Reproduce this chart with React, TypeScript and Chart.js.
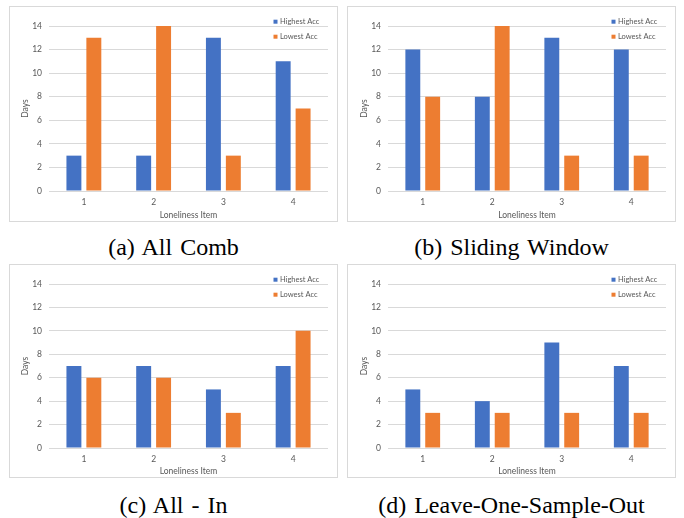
import React, { useEffect, useRef } from 'react';
import { Chart, registerables } from 'chart.js';

Chart.register(...registerables);

// ---- data ----
const categories = ['1', '2', '3', '4'];
const seriesNames = ['Highest Acc', 'Lowest Acc'];
const allCombHighest = [3, 3, 13, 11];
const allCombLowest = [13, 14, 3, 7];
const slidingHighest = [12, 8, 13, 12];
const slidingLowest = [8, 14, 3, 3];
const allInHighest = [7, 7, 5, 7];
const allInLowest = [6, 6, 3, 10];
const losoHighest = [5, 4, 9, 7];
const losoLowest = [3, 3, 3, 3];
const yMax = 14;
const yStep = 2;
const xTitle = 'Loneliness Item';
const yTitle = 'Days';
const captions = ['(a) All Comb', '(b) Sliding Window', '(c) All - In', '(d) Leave-One-Sample-Out'];

// ---- styles ----
const BLUE = '#4472C4';
const ORANGE = '#ED7D31';
const TEXT = '#595959';
const GRID = '#d9d9d9';
const FONT = 'Lato, Carlito, Calibri, sans-serif';

const insideLegend = {
  id: 'insideLegend',
  afterDraw(chart: any) {
    const { ctx, chartArea } = chart;
    ctx.save();
    ctx.font = `7.5px ${FONT}`;
    ctx.textBaseline = 'middle';
    ctx.textAlign = 'left';
    chart.data.datasets.forEach((ds: any, i: number) => {
      const y = chartArea.top - 4.3 + i * 15;
      const x = chartArea.right - 54.5;
      ctx.fillStyle = ds.backgroundColor;
      ctx.fillRect(x, y - 2, 4, 4);
      ctx.fillStyle = TEXT;
      ctx.fillText(ds.label, x + 6.5, y);
    });
    ctx.restore();
  },
};

type PanelProps = {
  left: number;
  top: number;
  width: number;
  height: number;
  plotLeft: number;
  plotTop: number;
  axisBottom: number;
  high: number[];
  low: number[];
};

function Panel(p: PanelProps) {
  const ref = useRef<HTMLCanvasElement | null>(null);
  useEffect(() => {
    if (!ref.current) return;
    const tickFont = { family: FONT, size: 8.5 };
    const chart = new Chart(ref.current, {
      type: 'bar',
      data: {
        labels: categories,
        datasets: [
          { label: seriesNames[0], data: p.high, backgroundColor: BLUE, borderWidth: 0 },
          { label: seriesNames[1], data: p.low, backgroundColor: ORANGE, borderWidth: 0 },
        ],
      },
      options: {
        animation: false,
        responsive: false,
        maintainAspectRatio: false,
        devicePixelRatio: 1,
        layout: { padding: { left: 0, top: p.plotTop, right: 10, bottom: 0 } },
        plugins: { legend: { display: false }, tooltip: { enabled: false } },
        datasets: { bar: { barPercentage: 0.75, categoryPercentage: 0.5714 } },
        scales: {
          x: {
            grid: { display: false, drawTicks: false },
            border: { display: false },
            ticks: { color: TEXT, font: tickFont, padding: 6 },
            title: {
              display: true,
              text: xTitle,
              color: TEXT,
              font: tickFont,
              padding: { top: 0, bottom: 1.5 },
            },
            afterFit: (s: any) => {
              s.height = p.axisBottom;
            },
          },
          y: {
            min: 0,
            max: yMax,
            ticks: { stepSize: yStep, padding: 7, color: TEXT, font: tickFont },
            grid: { color: GRID, drawTicks: false, lineWidth: 1 },
            border: { display: false },
            title: {
              display: true,
              text: yTitle,
              color: TEXT,
              font: tickFont,
              padding: { top: p.plotLeft - 24 - 5.1, bottom: 0 },
            },
            afterFit: (s: any) => {
              s.width = p.plotLeft;
            },
          },
        },
      },
      plugins: [insideLegend],
    } as any);
    return () => chart.destroy();
  }, []);

  return (
    <>
      <canvas
        ref={ref}
        width={p.width}
        height={p.height}
        style={{ position: 'absolute', left: p.left, top: p.top, width: p.width, height: p.height }}
      />
      <div
        style={{
          position: 'absolute',
          left: p.left,
          top: p.top,
          width: p.width,
          height: p.height,
          boxSizing: 'border-box',
          border: `1px solid ${GRID}`,
          pointerEvents: 'none',
        }}
      />
    </>
  );
}

const css = `
.cap { position: absolute; text-align: center; font-family: "Liberation Serif", "Times New Roman", serif; font-size: 24px;
  line-height: 24px; word-spacing: 2px; color: #000; white-space: nowrap; width: 409px; }
`;

export default function App() {
  return (
    <div>
      <style>{css}</style>
      <Panel left={9} top={6} width={329} height={216} plotLeft={40} plotTop={20} axisBottom={31}
        high={allCombHighest} low={allCombLowest} />
      <Panel left={347} top={6} width={329} height={216} plotLeft={41} plotTop={20} axisBottom={31}
        high={slidingHighest} low={slidingLowest} />
      <Panel left={9} top={264} width={329} height={214} plotLeft={40} plotTop={20} axisBottom={30}
        high={allInHighest} low={allInLowest} />
      <Panel left={347} top={264} width={329} height={214} plotLeft={41} plotTop={20} axisBottom={30}
        high={losoHighest} low={losoLowest} />
      <div className="cap" style={{ left: -31, top: 235 }}>{captions[0]}</div>
      <div className="cap" style={{ left: 307, top: 235 }}>{captions[1]}</div>
      <div className="cap" style={{ left: -31, top: 493 }}>{captions[2]}</div>
      <div className="cap" style={{ left: 307, top: 493 }}>{captions[3]}</div>
    </div>
  );
}
